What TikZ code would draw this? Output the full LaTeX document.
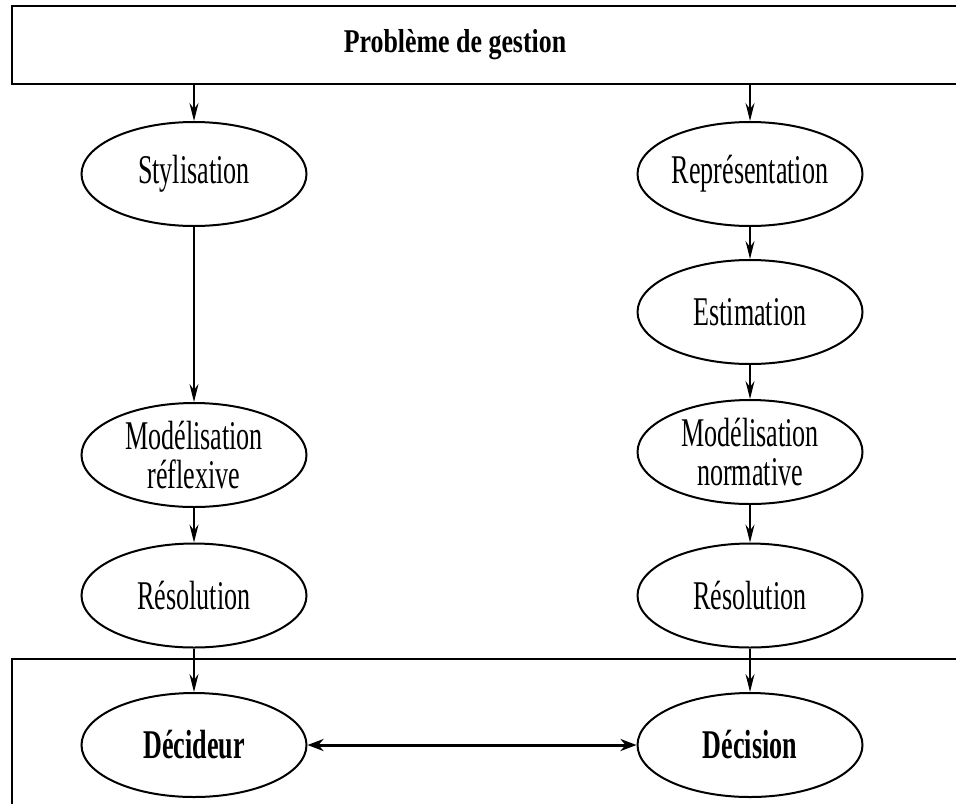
\documentclass[tikz,border=0pt]{standalone}
\usepackage{fontspec}
\setmainfont{Liberation Serif}[FakeStretch=0.64]
\newfontfamily\titlefont{Liberation Serif}[FakeStretch=0.78]
\usetikzlibrary{shapes.geometric,arrows.meta}

\tikzset{
  etape/.style={ellipse, draw, line width=1pt, minimum width=112.5pt,
    minimum height=52pt, inner sep=0pt, align=center,
    font=\fontsize{20.4}{19.5}\selectfont},
  etapebf/.style={etape, font=\fontsize{20.4}{19.5}\selectfont\bfseries},
  cadre/.style={draw, line width=1.2pt, inner sep=0pt},
  fleche/.style={line width=0.7pt, -{Stealth[length=9pt, width=4.5pt, inset=3pt]}},
  lien/.style={line width=1.5pt, {Stealth[length=8pt, width=6pt, inset=2.5pt]}-{Stealth[length=8pt, width=6pt, inset=2.5pt]}}
}

\begin{document}
\begin{tikzpicture}[x=0.5pt, y=-0.5pt]

  % Bounding box of the scheme
  \clip (0,0) rectangle (956,803);

  %%%%%%%%%%%%%%%%%%%%%%%%%%%%%%%%% Cadres %%%%%%%%%%%%%%%%%%%%%%%%%%%%%%%%%%%%
  \draw (506,45) node[cadre, minimum width=494pt, minimum height=39pt] (pbox) {} ;
  \draw (455,45) node[font=\titlefont\fontsize{16.6}{18}\selectfont\bfseries] (pbtitre) {Problème de gestion} ;
  \draw (506,760) node[cadre, minimum width=494pt, minimum height=101pt] (dbox) {} ;

  %%%%%%%%%%%%%%%%%%%%%%%%%%%%%%%%% Colonne gauche %%%%%%%%%%%%%%%%%%%%%%%%%%%%%%%%%%%%
  \draw (194,174) node[etape] (styl) {Stylisation} ;
  \draw (194,455) node[etape] (modr) {Modélisation\\réflexive} ;
  \draw (194,595.5) node[etape] (resl) {Résolution} ;
  \draw (194,745) node[etapebf] (decr) {Décideur} ;

  %%%%%%%%%%%%%%%%%%%%%%%%%%%%%%%%% Colonne droite %%%%%%%%%%%%%%%%%%%%%%%%%%%%%%%%%%%%
  \draw (750,174) node[etape] (repr) {Représentation} ;
  \draw (750,312) node[etape] (esti) {Estimation} ;
  \draw (750,452) node[etape] (modn) {Modélisation\\normative} ;
  \draw (750,595.5) node[etape] (resr) {Résolution} ;
  \draw (750,745) node[etapebf] (deci) {Décision} ;

  %%%%%%%%%%%%%%%%%%%%%%%%%%%%%%%%% Flèches %%%%%%%%%%%%%%%%%%%%%%%%%%%%%%%%%%%%
  \draw[fleche] (pbox.south -| styl) -- (styl) ;
  \draw[fleche] (pbox.south -| repr) -- (repr) ;

  \foreach \a/\b in {styl/modr, modr/resl, resl/decr, repr/esti, esti/modn, modn/resr, resr/deci} {
    \draw[fleche] (\a) -- (\b) ;
  }

  \draw[lien] (decr) -- (deci) ;

\end{tikzpicture}
\end{document}
